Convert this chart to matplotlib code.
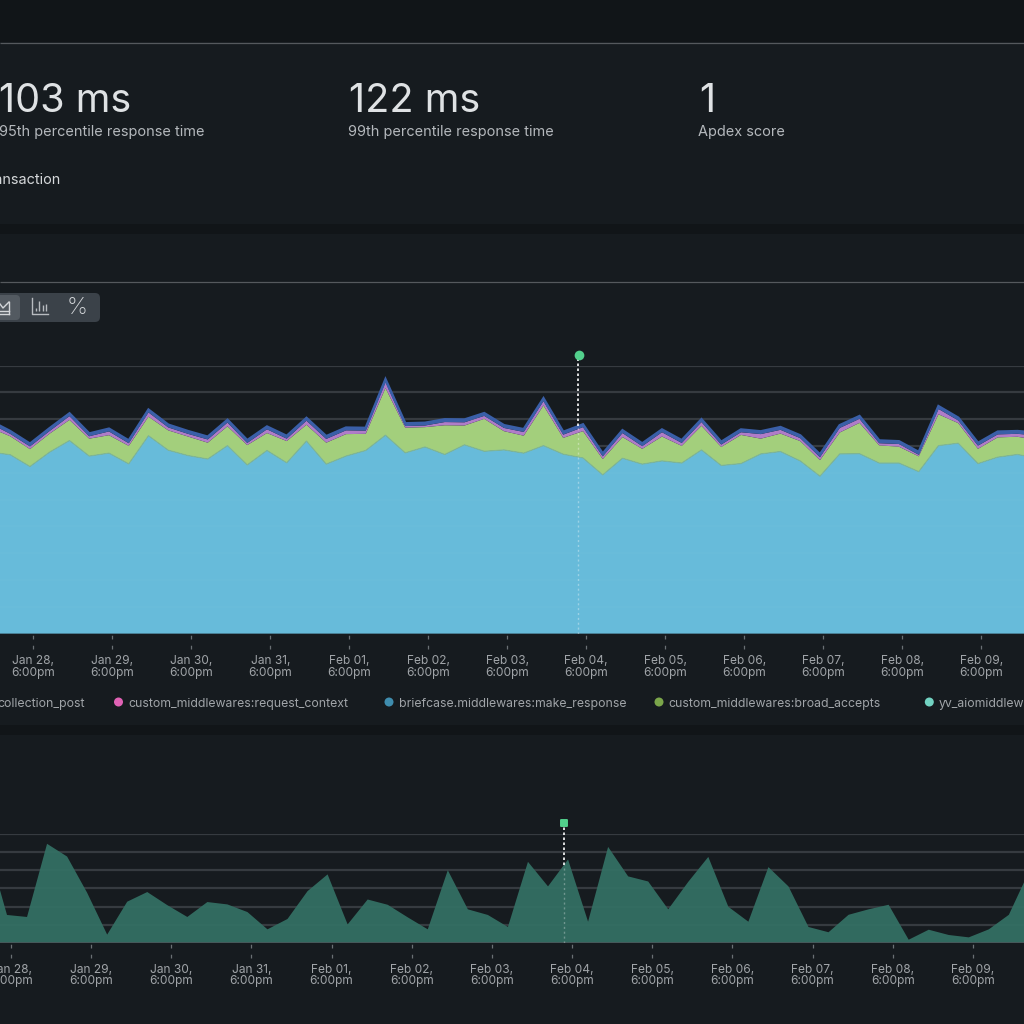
import matplotlib
matplotlib.use("Agg")
import matplotlib.pyplot as plt
import numpy as np
from matplotlib.markers import MarkerStyle
from matplotlib.patches import Circle, FancyBboxPatch, Rectangle

plt.rcParams["font.family"] = ["Inter", "DejaVu Sans"]

# values, one sample every 6 hours
aiomiddleware = [67.7, 66.7, 62.3, 67.7, 72.0, 66.2, 67.3, 63.3, 73.8, 68.4, 66.4, 65.1, 70.1, 62.9,
                 68.3, 63.7, 71.8, 63.2, 66.2, 68.3, 74.0, 67.4, 69.6, 66.8, 70.4, 68.0, 68.5,
                 67.3, 70.1, 66.9, 65.5, 59.2, 65.4, 63.2, 64.4, 63.6, 68.5, 62.7, 63.4, 67.0,
                 67.9, 64.4, 58.7, 67.0, 67.1, 63.6, 63.6, 60.4, 70.1, 71.0, 63.4, 65.8, 66.8, 65.4]
broad_accepts = [9.0, 6.9, 6.5, 6.9, 7.7, 6.5, 6.7, 6.7, 7.1, 7.4, 7.1, 6.1, 7.2, 7.4,
                 6.5, 8.1, 6.1, 8.0, 8.2, 6.2, 17.6, 9.4, 7.4, 10.9, 7.2, 12.1, 7.0,
                 6.5, 15.0, 6.1, 10.0, 5.9, 7.9, 5.7, 9.1, 6.4, 9.0, 6.9, 10.7, 5.7,
                 6.7, 7.4, 6.0, 8.0, 11.5, 6.6, 6.1, 5.7, 11.7, 7.5, 5.5, 7.4, 6.6, 6.9]
request_context = [1.6, 0.9, 1.0, 1.0, 1.4, 0.9, 1.4, 1.0, 1.6, 1.1, 1.0, 1.2, 1.4, 0.8,
                   1.4, 0.9, 1.5, 1.4, 1.4, 1.2, 2.2, 0.6, 0.6, 1.2, 1.2, 1.1, 1.2,
                   1.4, 1.6, 1.2, 1.5, 1.0, 1.5, 1.0, 1.6, 1.1, 1.4, 0.9, 1.0, 1.7,
                   1.4, 1.1, 1.1, 1.7, 1.5, 0.8, 1.0, 0.6, 2.0, 1.0, 1.2, 1.1, 1.1, 1.6]
collection_post = [1.0, 1.0, 1.0, 1.0, 1.0, 1.0, 1.0, 1.0, 1.0, 1.0, 1.0, 1.0, 1.0, 1.0,
                   1.0, 1.0, 1.0, 1.0, 1.0, 1.0, 1.0, 1.0, 1.0, 1.0, 1.0, 1.0, 1.0,
                   1.0, 1.0, 1.0, 1.0, 1.0, 1.0, 1.0, 1.0, 1.0, 1.0, 1.0, 1.0, 1.0,
                   1.0, 1.0, 1.0, 1.0, 1.0, 1.0, 1.0, 1.0, 1.0, 1.0, 1.0, 1.0, 1.0, 1.0]
throughput = [5.45, 1.54, 1.43, 5.45, 4.75, 2.76, 0.46, 2.27, 2.80, 2.08, 1.43, 2.25, 2.12, 1.70,
              0.75, 1.32, 2.85, 3.77, 1.02, 2.39, 2.10, 1.41, 0.75, 4.00, 1.85, 1.54, 0.88,
              4.46, 3.11, 4.59, 1.17, 5.28, 3.66, 3.38, 1.85, 3.36, 4.73, 1.99, 1.17, 4.17,
              3.11, 0.88, 0.59, 1.55, 1.85, 2.10, 0.18, 0.73, 0.44, 0.31, 0.75, 1.55, 3.91]

tick_labels = ["Jan 28,\n6:00pm", "Jan 29,\n6:00pm", "Jan 30,\n6:00pm", "Jan 31,\n6:00pm",
               "Feb 01,\n6:00pm", "Feb 02,\n6:00pm", "Feb 03,\n6:00pm", "Feb 04,\n6:00pm",
               "Feb 05,\n6:00pm", "Feb 06,\n6:00pm", "Feb 07,\n6:00pm", "Feb 08,\n6:00pm",
               "Feb 09,\n6:00pm"]
stat_values = ["103 ms", "122 ms", "1"]
stat_names = ["95th percentile response time", "99th percentile response time", "Apdex score"]
legend_names = ["custom_middlewares:request_context", "briefcase.middlewares:make_response",
                "custom_middlewares:broad_accepts", "yv_aiomiddlewares:handler"]
legend_colors = ["#E062B4", "#3F8DAE", "#7BA64A", "#72D3C2"]

BG = "#161B1F"
DARK = "#111518"
GRID = "#363B40"
TICK_TEXT = "#A0A4A8"
CURSOR = "#52D08C"
CURSOR_DAY = 6.9


def place_axes(fig, top_px, bottom_px):
    ax = fig.add_axes([0, 1 - bottom_px / 1024, 1, (bottom_px - top_px) / 1024])
    ax.patch.set_alpha(0)
    for spine in ax.spines.values():
        spine.set_visible(False)
    ax.set_yticks([])
    return ax


def draw_time_axis(ax, tick_pad, tick_frac):
    days = np.arange(len(tick_labels))
    ax.set_xticks(days, tick_labels)
    ax.tick_params(axis="x", length=0, pad=tick_pad, labelsize=8.6, labelcolor=TICK_TEXT)
    for label in ax.get_xticklabels():
        label.set_linespacing(0.98)
    ax.vlines(days, -tick_frac, 0, transform=ax.get_xaxis_transform(), colors="#6A7074",
              linewidth=0.9, linestyles=(0, (3, 5)), clip_on=False)


fig = plt.figure(figsize=(10.24, 10.24), dpi=100, facecolor=BG)

# page chrome in pixel coordinates
page = fig.add_axes([0, 0, 1, 1])
page.set_xlim(0, 1024)
page.set_ylim(1024, 0)
page.axis("off")
for y0, y1 in [(0, 42), (224, 234), (725, 735)]:
    page.add_patch(Rectangle((0, y0), 1024, y1 - y0, color=DARK, lw=0))
page.hlines([43, 282], 0, 1024, colors="#55595D", linewidth=0.9)

for x, value, name in zip([-1, 349, 699], stat_values, stat_names):
    page.text(x, 101, value, fontsize=28.5, color="#DFE2E4", weight="normal", va="center")
    page.text(x - 0.5 if x > 0 else -1, 132, name, fontsize=10.45, color="#B4B8BC", va="center")
page.text(61, 179.5, "transaction", fontsize=10.4, color="#D5D8DA", va="center", ha="right")

# chart type switcher
page.add_patch(FancyBboxPatch((-20, 293), 120, 29, boxstyle="round,pad=0,rounding_size=5",
                              fc="#3B4249", ec="none"))
page.add_patch(FancyBboxPatch((-20, 295), 40, 25, boxstyle="round,pad=0,rounding_size=4",
                              fc="#535A61", ec="none"))
icon = {"color": "#D4D7DA", "lw": 1.0}
page.plot([0, 9], [314, 314], **icon)
page.plot([0, 9], [311, 311], **icon)
page.plot([9, 9], [302, 314], **icon)
page.plot([0, 3, 9], [304, 308, 302], **icon)
page.plot([31.7, 31.7, 48], [298, 314, 314], color="#B8BCC0", lw=1.0)
page.vlines([35.5, 39, 42.5, 46], [308, 301, 305, 304], 311, colors="#B8BCC0", linewidth=1.0)
page.text(77, 307.5, "%", fontsize=17, color="#D4D7DA", ha="center", va="center", weight="light")

# legend
page.text(85, 703.5, "collection_post", fontsize=8.9, color=TICK_TEXT, ha="right", va="center")
for x, name, color in zip([118.5, 389, 659, 929.3], legend_names, legend_colors):
    page.add_patch(Circle((x, 702), 4.5, color=color, lw=0))
    page.text(x + 9.5, 703.5, name, fontsize=8.85, color=TICK_TEXT, va="center", clip_on=True)

# response time breakdown
ax = place_axes(fig, 365.5, 633.5)
times = np.arange(len(aiomiddleware)) * 0.25 - 0.542
layers = [aiomiddleware, broad_accepts, request_context, collection_post]
ax.stackplot(times, layers, colors=["#67BBDA", "#A3CF7C", "#B07CC8", "#3A5FA8"], linewidth=0, zorder=2)
total = np.sum(layers, axis=0)
ax.plot(times, total, color="#3A5FA8", lw=1.9, zorder=3, solid_joinstyle="miter")
ax.plot(times, aiomiddleware, color="#7FB79A", lw=0.8, zorder=3)
ax.hlines(np.arange(10, 101, 10), -5, 20, colors=GRID, linewidth=1.6, zorder=1)
ax.hlines(np.arange(10, 61, 10), -5, 20, colors="white", alpha=0.025, linewidth=1.2, zorder=4)
ax.set_xlim(-33.3 / 79, (1024 - 33.3) / 79)
ax.set_ylim(0, 100)
ax.axhline(0, color="#4A7F94", lw=1.4, zorder=4)
draw_time_axis(ax, 15.8, 15 / 268)
cursor_top = np.interp(CURSOR_DAY, times, total)
ax.plot([CURSOR_DAY] * 2, [cursor_top, 104], color="white", lw=1.2, ls=(0, (1.5, 1.5)), clip_on=False, zorder=5)
ax.plot([CURSOR_DAY] * 2, [0, cursor_top], color="white", lw=1.0, ls=(0, (1.5, 2)), alpha=0.35, zorder=5)
ax.plot(CURSOR_DAY + 0.008, 104, "o", color=CURSOR, ms=7.0, mew=0, clip_on=False, zorder=6)

# throughput
ax2 = place_axes(fig, 833.8, 943)
times2 = np.arange(len(throughput)) * 0.25 - 0.30
ax2.hlines(np.arange(1, 7), -5, 20, colors=GRID, linewidth=1.6, zorder=1)
ax2.fill_between(times2, throughput, 0, color="#336F63", alpha=0.95, lw=0, zorder=2)
ax2.set_xlim(-11 / 80.15, (1024 - 11) / 80.15)
ax2.set_ylim(0, 6)
ax2.axhline(0, color="#46595A", lw=1.4, zorder=4)
draw_time_axis(ax2, 14.8, 15 / 109)
cursor_day2 = 6.9
cursor_top2 = np.interp(cursor_day2, times2, throughput)
ax2.plot([cursor_day2] * 2, [cursor_top2, 6.6], color="white", lw=1.2, ls=(0, (1.5, 1.5)), clip_on=False, zorder=5)
ax2.plot([cursor_day2] * 2, [0, cursor_top2], color="white", lw=1.0, ls=(0, (1.5, 2)), alpha=0.3, zorder=5)
ax2.plot(cursor_day2, 6.6, marker=MarkerStyle("s", joinstyle="round"), color=CURSOR, ms=4.8, mew=1.4,
         clip_on=False, zorder=6)

fig.savefig("out.png", dpi=100, facecolor=BG)
